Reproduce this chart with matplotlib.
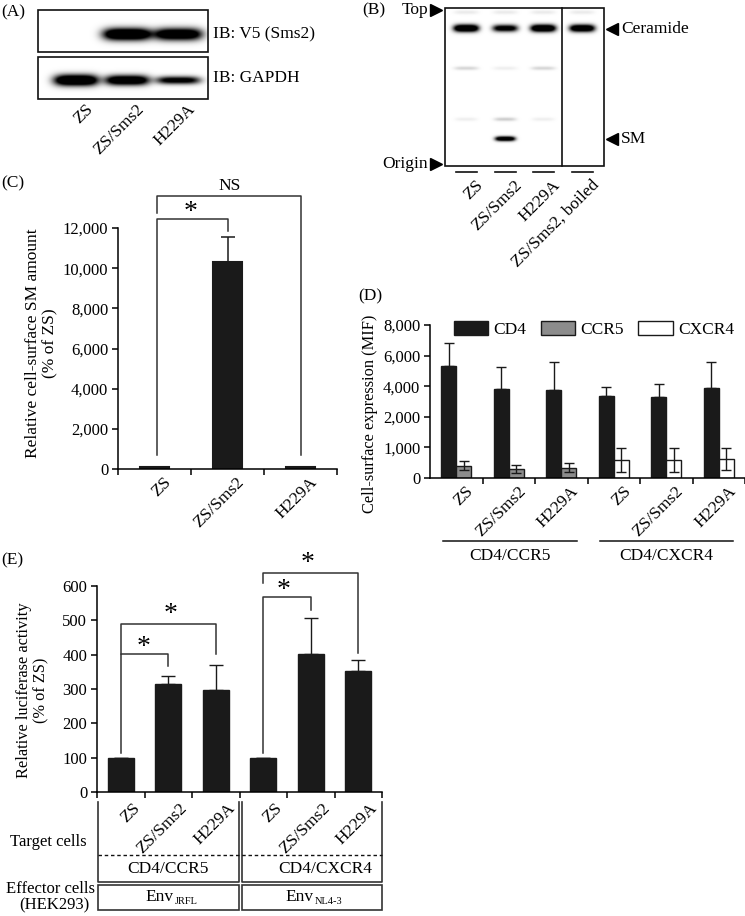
import numpy as np
import matplotlib
matplotlib.use("Agg")
import matplotlib.pyplot as plt
from matplotlib.patches import Rectangle, Patch
from matplotlib.ticker import StrMethodFormatter

plt.rcParams["font.family"] = ["Liberation Serif", "DejaVu Serif"]
plt.rcParams["axes.linewidth"] = 1.1

W, H = 745, 916
FS = 12.5   # general text size
TS = 12     # tick label size

# ---- data -------------------------------------------------------------
samples = ["ZS", "ZS/Sms2", "H229A"]

# (A) western blot band strengths per lane
a_lane_x = [76, 127, 178]
a_v5 = [0.0, 1.0, 0.9]
a_gapdh = [1.0, 0.9, 0.7]

# (B) TLC lanes
b_lanes = ["ZS", "ZS/Sms2", "H229A", "ZS/Sms2, boiled"]
b_lane_x = [466, 505, 543, 582]
b_ceramide = [1.0, 0.75, 1.0, 0.95]
b_sm = [0.0, 0.9, 0.0, 0.0]
b_faint_upper = [0.10, 0.04, 0.10, 0.0]
b_faint_lower = [0.04, 0.12, 0.04, 0.0]

# (C) cell-surface SM
sm_amount = [100, 10300, 120]
sm_err = [0, 1250, 0]

# (D) cell-surface expression
d_samples = samples * 2
d_groups = ["CD4/CCR5", "CD4/CXCR4"]
cd4 = [5300, 3800, 3750, 3330, 3270, 3870]
cd4_err = [1540, 1430, 1850, 600, 860, 1730]
coreceptor = [400, 300, 330, 600, 600, 630]
coreceptor_err = [150, 130, 150, 390, 390, 360]
d_ticks = [0, 1000, 2000, 4000, 6000, 8000]

# (E) luciferase activity
luc = [100, 315, 298, 100, 402, 352]
luc_err = [0, 23, 72, 0, 105, 32]
e_envs = ["JRFL", "NL4-3"]


def px_axes(x0, y0, x1, y1):
    return [x0 / W, 1 - y1 / H, (x1 - x0) / W, (y1 - y0) / H]


def blot(ax, x0, y0, x1, y1, bands):
    """Render blot bands (cx, cy, half-width, half-height, strength) as an image."""
    xs = np.arange(x0, x1, 0.5)
    ys = np.arange(y0, y1, 0.5)
    X, Y = np.meshgrid(xs, ys)
    img = np.zeros_like(X)
    for cx, cy, hw, hh, s in bands:
        img += s * np.exp(-np.abs((X - cx) / hw) ** 4) * np.exp(-((Y - cy) / hh) ** 2)
    img = np.clip(img * 1.7, 0, 1)
    ax.imshow(img, cmap="gray_r", vmin=0, vmax=1, extent=[x0, x1, y1, y0],
              aspect="auto", interpolation="bilinear", zorder=1)
    ax.add_patch(Rectangle((x0, y0), x1 - x0, y1 - y0, fill=False, lw=1.2,
                           ec="#111", zorder=3))


def rot_label(ax, x, y, text, size=FS):
    ax.text(x, y, text, rotation=45, ha="right", va="top", rotation_mode="anchor",
            fontsize=size)


def cat_labels(ax, labels, dx, dy):
    for i, lab in enumerate(labels):
        ax.annotate(lab, xy=(i, 0), xycoords=("data", "axes fraction"),
                    xytext=(dx, dy), textcoords="offset points", rotation=45,
                    ha="right", va="top", rotation_mode="anchor", fontsize=FS)


fig = plt.figure(figsize=(W / 100, H / 100), dpi=100)
ov = fig.add_axes([0, 0, 1, 1])
ov.set_xlim(0, W)
ov.set_ylim(H, 0)
ov.axis("off")

# ---- (A) --------------------------------------------------------------
ov.text(1, 12, "(A)", fontsize=FS, va="center")
blot(ov, 38, 10, 208, 52,
     [(x, 34, 24, 6, s) for x, s in zip(a_lane_x, a_v5) if s > 0])
blot(ov, 38, 57, 208, 99,
     [(x, 80, 22, 5.5 * s, s) for x, s in zip(a_lane_x, a_gapdh)])
ov.text(213, 34, "IB: V5 (Sms2)", fontsize=FS, va="center")
ov.text(213, 78, "IB: GAPDH", fontsize=FS, va="center")
for x, lab in zip(a_lane_x, samples):
    rot_label(ov, x + 9, 101, lab)

# ---- (B) --------------------------------------------------------------
ov.text(362, 10, "(B)", fontsize=FS, va="center")
bands = []
for i, x in enumerate(b_lane_x):
    bands.append((x, 28, 12.5, 3.6 * (0.8 + 0.2 * b_ceramide[i]), b_ceramide[i]))
    bands.append((x, 12, 12, 2, 0.05))
    if b_sm[i] > 0:
        bands.append((x, 138.5, 10, 2.3, b_sm[i]))
    if b_faint_upper[i] > 0:
        bands.append((x, 68, 12, 1.8, b_faint_upper[i]))
    if b_faint_lower[i] > 0:
        bands.append((x, 119, 11, 1.8, b_faint_lower[i]))
blot(ov, 445, 8, 604, 166, bands)
ov.plot([562, 562], [8, 166], color="#111", lw=1.2, zorder=3)
ov.text(428, 10, "Top", fontsize=FS, ha="right", va="center")
ov.text(428, 164, "Origin", fontsize=FS, ha="right", va="center")
ov.plot([436, 436], [10, 164], ls="none", marker=">", ms=8.5, color="black")
ov.plot([612, 612], [29, 139], ls="none", marker="<", ms=8.5, color="black")
ov.text(621, 29, "Ceramide", fontsize=FS, va="center")
ov.text(621, 139, "SM", fontsize=FS, va="center")
for x, lab in zip(b_lane_x, b_lanes):
    ov.plot([x - 10.5, x + 10.5], [172, 172], color="#111", lw=1.2)
    rot_label(ov, x + 9, 177, lab)

# ---- (C) --------------------------------------------------------------
ov.text(1, 183, "(C)", fontsize=FS, va="center")
axc = fig.add_axes(px_axes(118, 228, 337, 469))
axc.patch.set_alpha(0)
xc = np.arange(len(samples))
axc.bar(xc, sm_amount, width=0.41, color="#1a1a1a", edgecolor="#1a1a1a", lw=1.5)
axc.errorbar(xc, sm_amount, yerr=[np.zeros(3), sm_err], fmt="none", ecolor="#1a1a1a",
             elinewidth=1.1, capsize=5, capthick=1.1)
axc.set_xlim(-0.5, 2.5)
axc.set_ylim(0, 12000)
axc.set_yticks(range(0, 12001, 2000))
axc.yaxis.set_major_formatter(StrMethodFormatter("{x:,.0f}"))
axc.set_xticks([-0.5, 0.5, 1.5, 2.5])
axc.set_xticklabels([])
axc.tick_params(direction="out", length=4, width=1.1, labelsize=TS, pad=3)
for s in ["top", "right"]:
    axc.spines[s].set_visible(False)
cat_labels(axc, samples, 6, -4)
kw = dict(color="#333", lw=1.1, clip_on=False)
axc.plot([0.03, 0.03, 1.0, 1.0], [700, 12450, 12450, 11850], **kw)
axc.plot([0.03, 0.03, 2.0, 2.0], [12750, 13600, 13600, 700], **kw)
axc.text(0.49, 12750, "*", fontsize=20, ha="center", va="center")
axc.text(1.03, 14100, "NS", fontsize=FS, ha="center", va="center")
ov.text(42, 343, "Relative cell-surface SM amount\n(% of ZS)", rotation=90,
        fontsize=FS, ha="center", va="center", multialignment="center",
        linespacing=1.1)

# ---- (D) --------------------------------------------------------------
ov.text(358, 296, "(D)", fontsize=FS, va="center")
axd = fig.add_axes(px_axes(430, 325, 745, 478))
axd.patch.set_alpha(0)
pos = np.arange(len(d_ticks))
axd.set_yscale("function", functions=(lambda v: np.interp(v, d_ticks, pos),
                                      lambda p: np.interp(p, pos, d_ticks)))
xd = np.arange(len(d_samples))
bw = 0.29
co_colors = ["#8c8c8c"] * 3 + ["white"] * 3
axd.bar(xd - bw / 2, cd4, width=bw, color="#1a1a1a", edgecolor="#1a1a1a", lw=1)
axd.bar(xd + bw / 2, coreceptor, width=bw, color=co_colors, edgecolor="#1a1a1a", lw=1)
axd.errorbar(xd - bw / 2, cd4, yerr=[np.zeros(6), cd4_err], fmt="none",
             ecolor="#1a1a1a", elinewidth=1, capsize=3.5, capthick=1)
axd.errorbar(xd + bw / 2, coreceptor, yerr=coreceptor_err, fmt="none",
             ecolor="#1a1a1a", elinewidth=1, capsize=3.5, capthick=1)
axd.set_xlim(-0.5, 5.5)
axd.set_ylim(0, 8000)
axd.set_yticks(d_ticks)
axd.yaxis.set_major_formatter(StrMethodFormatter("{x:,.0f}"))
axd.yaxis.set_minor_locator(matplotlib.ticker.NullLocator())
axd.set_xticks(np.arange(0.5, 6, 1))
axd.set_xticklabels([])
axd.tick_params(direction="out", length=4, width=1.1, labelsize=TS, pad=3)
for s in ["top", "right"]:
    axd.spines[s].set_visible(False)
cat_labels(axd, d_samples, 6.5, -4)
handles = [Patch(fc="#1a1a1a", ec="#1a1a1a"), Patch(fc="#8c8c8c", ec="#1a1a1a"),
           Patch(fc="white", ec="#1a1a1a")]
axd.legend(handles, ["CD4", "CCR5", "CXCR4"], ncol=3, frameon=False,
           loc="upper center", bbox_to_anchor=(0.52, 1.07), fontsize=FS,
           handlelength=2.0, handleheight=0.8, handletextpad=0.3,
           columnspacing=0.8, borderaxespad=0)
for (x0, x1), g in zip([(443, 577), (600, 733)], d_groups):
    ov.plot([x0, x1], [541, 541], color="#111", lw=1.1)
    ov.text((x0 + x1) / 2, 556, g, fontsize=FS, ha="center", va="center")
ov.text(370, 414, "Cell-surface expression (MIF)", rotation=90, fontsize=11.8,
        ha="center", va="center")

# ---- (E) --------------------------------------------------------------
ov.text(1, 560, "(E)", fontsize=FS, va="center")
axe = fig.add_axes(px_axes(97, 586, 382, 792))
axe.patch.set_alpha(0)
xe = np.arange(len(luc))
axe.bar(xe, luc, width=0.54, color="#1a1a1a", edgecolor="#1a1a1a", lw=1)
axe.errorbar(xe, luc, yerr=[np.zeros(6), luc_err], fmt="none", ecolor="#1a1a1a",
             elinewidth=1, capsize=5, capthick=1)
axe.set_xlim(-0.5, 5.5)
axe.set_ylim(0, 600)
axe.set_yticks(range(0, 601, 100))
axe.set_xticks(np.arange(-0.5, 6, 1))
axe.set_xticklabels([])
axe.tick_params(direction="out", length=4, width=1.1, labelsize=TS, pad=3)
for s in ["top", "right"]:
    axe.spines[s].set_visible(False)
cat_labels(axe, d_samples, 8, -6)
kw = dict(color="#333", lw=1.1, clip_on=False)
axe.plot([0, 0, 1, 1], [113, 402, 402, 367], **kw)
axe.plot([0, 0, 2, 2], [402, 490, 490, 402], **kw)
axe.plot([3, 3, 4, 4], [113, 567, 567, 530], **kw)
axe.plot([3, 3, 5, 5], [609, 638, 638, 405], **kw)
for x, y in [(0.49, 420), (1.04, 516), (3.42, 586), (3.94, 665)]:
    axe.text(x, y, "*", fontsize=20, ha="center", va="center", clip_on=False)
ov.text(33, 690, "Relative luciferase activity\n(% of ZS)", rotation=90,
        fontsize=11.8, ha="center", va="center", multialignment="center",
        linespacing=1.1)

# table under (E)
tk = dict(color="#333", lw=1.2)
for x0, x1 in [(98, 238.5), (241.5, 382)]:
    ov.plot([x0, x0, x1, x1], [802, 882, 882, 802], **tk)
    ov.add_patch(Rectangle((x0, 885), x1 - x0, 25, fill=False, ec="#333", lw=1.2))
ov.plot([98, 382], [855, 855], color="#111", lw=1, ls=(0, (2.5, 2)))
ov.text(48, 842, "Target cells", fontsize=12, ha="center", va="center")
ov.text(50, 889, "Effector cells", fontsize=12, ha="center", va="center")
ov.text(54, 905, "(HEK293)", fontsize=12, ha="center", va="center")
for xc_, xe_, g, env in zip([168, 325], [174, 314], d_groups, e_envs):
    ov.text(xc_, 869, g, fontsize=FS, ha="center", va="center")
    ov.text(xe_, 897, "Env", fontsize=FS, ha="right", va="center")
    ov.text(xe_ + 1, 902, env, fontsize=7.5, ha="left", va="center")

fig.savefig("out.png", dpi=100)
